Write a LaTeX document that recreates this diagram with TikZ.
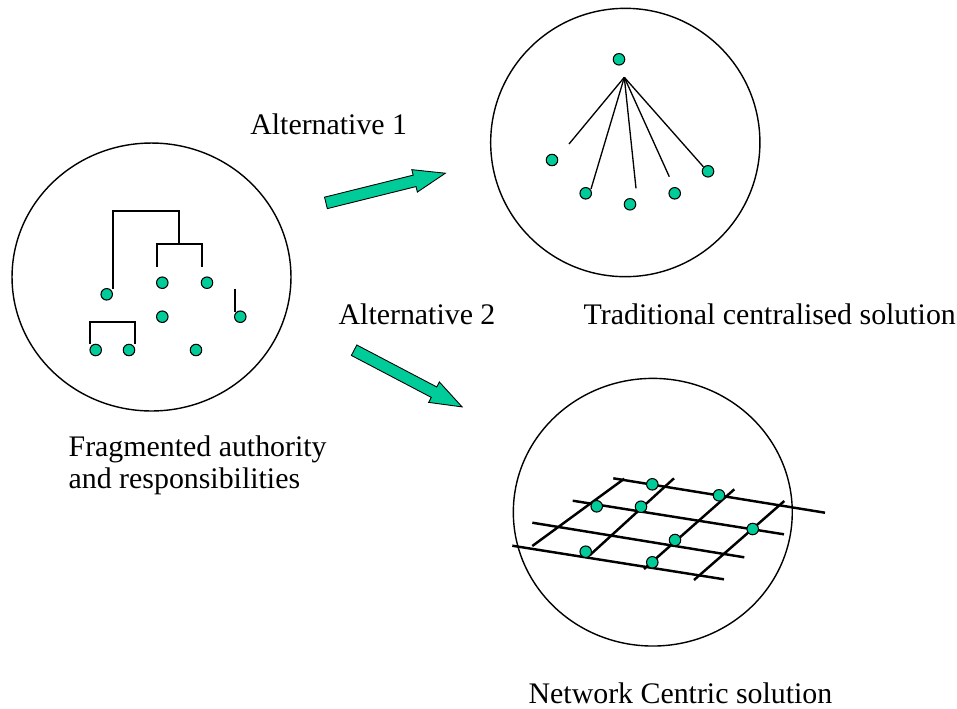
\documentclass[tikz,border=0pt]{standalone}
\usepackage{fontspec}
\setmainfont{Liberation Serif}
\usetikzlibrary{shapes.arrows,shapes.geometric}
\definecolor{tealdot}{HTML}{00CC99}
\begin{document}
\begin{tikzpicture}[x=0.02cm,y=-0.02cm,
  dot/.style={circle,fill=tealdot,draw=black,line width=0.6pt,inner sep=0pt,minimum size=0.23cm},
  ring/.style={ellipse,draw=black,line width=0.8pt,inner sep=0pt},
  treeline/.style={line width=1.1pt},
  spoke/.style={line width=0.75pt},
  gridline/.style={line width=1.4pt},
  bigarrow/.style={single arrow,fill=tealdot,draw=black,line width=0.5pt,inner sep=0pt,
    inner ysep=0.109cm,single arrow head extend=0.113cm,single arrow tip angle=40,anchor=tail},
  txt/.style={font=\fontsize{17}{20}\selectfont,anchor=base west,inner sep=0pt}]
\useasboundingbox[fill=white] (0,0) rectangle (957,708);

% circles
\node[ring,minimum width=5.58cm,minimum height=5.36cm] (c1) at (151.5,277) {};
\node[ring,minimum width=5.386cm,minimum height=5.368cm] (c2) at (625.3,142.5) {};
\node[ring,minimum width=5.58cm,minimum height=5.354cm] (c3) at (652.8,512.2) {};

% left: fragmented tree
\coordinate (t1) at (112.7,289);
\coordinate (t2) at (179.3,244);
\draw[treeline] (t1) |- (t2 |- 0,210.7) -- (t2);
\coordinate (u1) at (156.7,266.7);
\coordinate (u2) at (201.7,266.7);
\draw[treeline] (u1) |- (t2) -| (u2);
\coordinate (v1) at (235,288.7);
\coordinate (v2) at (235,311.7);
\draw[treeline] (v1) -- (v2);
\coordinate (w1) at (90,344);
\coordinate (w2) at (135,344);
\draw[treeline] (w1) |- (112.5,322) -| (w2);
\node[dot] (d1) at (162.3,282.7) {};
\node[dot] (d2) at (207,282.7) {};
\node[dot] (d3) at (106.7,294.3) {};
\node[dot] (d4) at (162.3,316.7) {};
\node[dot] (d5) at (240.3,316.7) {};
\node[dot] (d6) at (95.7,350) {};
\node[dot] (d7) at (129,350) {};
\node[dot] (d8) at (196,350) {};

% top right: centralised star
\coordinate (hub) at (624.3,77.3);
\coordinate (s1) at (569,144);
\coordinate (s2) at (591,189);
\coordinate (s3) at (636,188.3);
\coordinate (s4) at (669.3,176.7);
\coordinate (s5) at (703.3,166.7);
\foreach \s in {s1,s2,s3,s4,s5} \draw[spoke] (hub) -- (\s);
\node[dot] (e0) at (619,59.3) {};
\node[dot] (e1) at (552,160) {};
\node[dot] (e2) at (585.7,193.3) {};
\node[dot] (e3) at (630,204.3) {};
\node[dot] (e4) at (674.7,193.3) {};
\node[dot] (e5) at (708,171.3) {};

% bottom right: network grid
\draw[gridline] (613.3,478.3) -- (825,512.7);
\draw[gridline] (572.7,500.7) -- (784,534.3);
\draw[gridline] (532.3,522.7) -- (744.3,557.3);
\draw[gridline] (512.3,545.7) -- (724,579.3);
\draw[gridline] (532.3,546) -- (624.3,478.7);
\draw[gridline] (590,555) -- (674,478.3);
\draw[gridline] (644,569) -- (734.3,489.3);
\draw[gridline] (694,580) -- (784.3,501);
\node[dot] (g1) at (652.3,484.3) {};
\node[dot] (g2) at (719,495.3) {};
\node[dot] (g3) at (596.7,506.3) {};
\node[dot] (g4) at (641,506.7) {};
\node[dot] (g5) at (752.7,529) {};
\node[dot] (g6) at (675,540) {};
\node[dot] (g7) at (585.7,551.7) {};
\node[dot] (g8) at (652.3,562.3) {};

% arrows
\node[bigarrow,minimum height=2.462cm,rotate=13.96] (a1) at (325.5,203) {};
\node[bigarrow,minimum height=2.44cm,rotate=-27.7] (a2) at (353.7,350) {};

% texts
\node[txt] (l1) at (250,134.3) {Alternative 1};
\node[txt] (l2) at (338.3,324.3) {Alternative 2};
\node[txt] (l3) at (583.3,324.3) {Traditional centralised solution};
\node[txt] (l4) at (68.3,456.7) {Fragmented authority};
\node[txt] (l5) at (68.3,488.3) {and responsibilities};
\node[txt] (l6) at (528.3,703) {Network Centric solution};
\end{tikzpicture}
\end{document}
